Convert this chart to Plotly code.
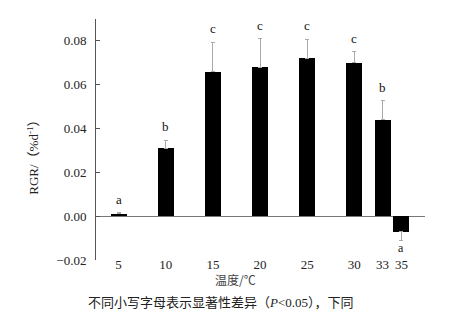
import plotly.graph_objects as go

temps = [5, 10, 15, 20, 25, 30, 33, 35]
rgr = [0.001, 0.031, 0.066, 0.068, 0.072, 0.070, 0.044, -0.007]
err = [0.0005, 0.0037, 0.0134, 0.013, 0.0087, 0.005, 0.0088, 0.004]
letters = ["a", "b", "c", "c", "c", "c", "b", "a"]
y_ticks = [-0.02, 0.00, 0.02, 0.04, 0.06, 0.08]
x_ticks = [5, 10, 15, 20, 25, 30, 33, 35]
between_ticks = [7.5, 12.5, 17.5, 22.5, 27.5]

Y_RANGE = [-0.02, 0.09]
X_RANGE = [2.6, 37.5]

SERIF = "Liberation Serif, Times New Roman, serif"
MIXED = "Liberation Serif, Noto Sans CJK SC, serif"
CJK = "Noto Sans CJK SC, sans-serif"

err_plus = [e if v >= 0 else 0 for v, e in zip(rgr, err)]
err_minus = [e if v < 0 else 0 for v, e in zip(rgr, err)]

fig = go.Figure()
fig.add_trace(go.Bar(
    x=temps, y=rgr, width=1.7,
    marker=dict(color="black", line=dict(width=0)),
    error_y=dict(type="data", symmetric=False, array=err_plus, arrayminus=err_minus,
                 color="#aaaaaa", thickness=1, width=2),
    showlegend=False,
))

annotations = []
for t, v, e, L in zip(temps, rgr, err, letters):
    if v >= 0:
        annotations.append(dict(x=t, y=v + e, xref="x", yref="y", text=L, showarrow=False,
                                yanchor="bottom", yshift=4,
                                font=dict(family=SERIF, size=13, color="#111")))
    else:
        annotations.append(dict(x=t, y=v - e, xref="x", yref="y", text=L, showarrow=False,
                                yanchor="top", yshift=1,
                                font=dict(family=SERIF, size=12, color="#111")))

annotations.append(dict(xref="paper", yref="paper", x=-0.192, y=0.44, text="RGR/（%d<sup>-1</sup>）",
                        textangle=-90, showarrow=False, xanchor="center", yanchor="middle",
                        font=dict(family=MIXED, size=13, color="#222")))
annotations.append(dict(xref="paper", yref="paper", x=0.4255, y=-0.08, text="温度/℃",
                        showarrow=False, xanchor="center", yanchor="middle",
                        font=dict(family=CJK, size=12, color="#444")))
annotations.append(dict(xref="paper", yref="paper", x=0.381, y=-0.178,
                        text="不同小写字母表示显著性差异（<i>P</i>&lt;0.05），下同",
                        showarrow=False, xanchor="center", yanchor="middle",
                        font=dict(family=MIXED, size=13, color="#222")))

fig.update_layout(
    width=450, height=322,
    margin=dict(l=96, r=25, t=19, b=62),
    paper_bgcolor="white", plot_bgcolor="white",
    bargap=0,
    xaxis=dict(range=X_RANGE, tickvals=x_ticks, ticktext=[str(t) for t in x_ticks],
               ticks="", showline=False, showgrid=False, zeroline=False,
               ticklabelstandoff=-5,
               tickfont=dict(family=SERIF, size=13, color="#222")),
    xaxis2=dict(overlaying="x", anchor="free", position=(0 - Y_RANGE[0]) / (Y_RANGE[1] - Y_RANGE[0]),
                range=X_RANGE, tickvals=between_ticks, ticks="inside", ticklen=3,
                tickcolor="#888", showticklabels=False, showline=False, showgrid=False,
                zeroline=False, side="bottom"),
    yaxis=dict(range=Y_RANGE, tickvals=y_ticks, tickformat=".2f",
               ticks="inside", ticklen=4, tickcolor="#555",
               showline=True, linecolor="#555", linewidth=1,
               showgrid=False, zeroline=True, zerolinecolor="#777", zerolinewidth=1,
               ticklabelstandoff=6,
               tickfont=dict(family=SERIF, size=13, color="#222")),
    annotations=annotations,
)

fig.write_html("out.html", config={"displayModeBar": False},
               post_script="document.body.style.margin='0';")
